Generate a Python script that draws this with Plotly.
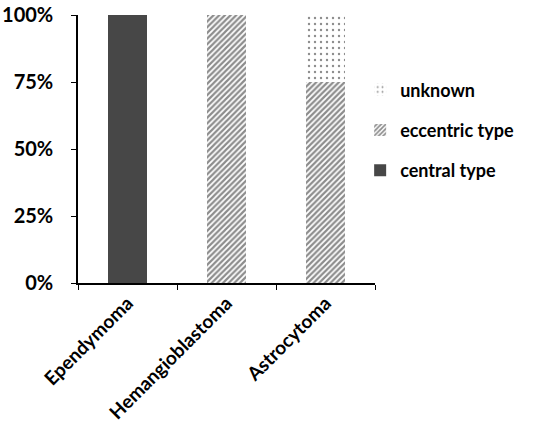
import plotly.graph_objects as go

categories = ["Ependymoma", "Hemangioblastoma", "Astrocytoma"]
central_type = [100, 0, 0]
eccentric_type = [0, 100, 75]
unknown = [0, 0, 25]
tick_vals = [0, 25, 50, 75, 100]
tick_text = ["0%", "25%", "50%", "75%", "100%"]

FONT = "Lato"

fig = go.Figure()
fig.add_trace(go.Bar(
    x=categories, y=central_type, name="<b>central type</b>",
    legendgroup="c", legendrank=3,
    marker=dict(color="#474747", line=dict(width=0)),
))
fig.add_trace(go.Bar(
    x=categories, y=eccentric_type, name="<b>eccentric type</b>",
    legendgroup="e", legendrank=2,
    marker=dict(color="white", line=dict(width=0),
                pattern=dict(shape="/", fgcolor="#1a1a1a", bgcolor="white",
                             size=4, solidity=0.55)),
))
fig.add_trace(go.Bar(
    x=categories, y=unknown, name="<b>unknown</b>",
    legendgroup="u", legendrank=1,
    marker=dict(color="white", line=dict(width=0),
                pattern=dict(shape=".", fgcolor="#1a1a1a", bgcolor="white",
                             size=6, solidity=0.12)),
))

fig.update_layout(
    barmode="stack",
    bargap=0.6,
    width=533, height=439,
    autosize=False,
    margin=dict(l=78, r=158, t=15, b=156, autoexpand=False),
    plot_bgcolor="white", paper_bgcolor="white",
    font=dict(family=FONT, size=19, color="black"),
    showlegend=True,
    legend=dict(x=0.95, y=0.79, xanchor="left", yanchor="top",
                traceorder="grouped", itemsizing="constant",
                font=dict(family=FONT, size=18, color="black"),
                bgcolor="rgba(0,0,0,0)",
                tracegroupgap=14, itemwidth=30),
    xaxis=dict(showline=True, linecolor="black", linewidth=1.5,
               automargin=False,
               ticks="outside", tickson="boundaries", ticklen=5,
               tickcolor="black", tickangle=-45,
               tickvals=categories,
               ticktext=["<b>" + c + "</b>" for c in categories],
               tickfont=dict(family=FONT, size=19, color="black")),
    yaxis=dict(range=[0, 100], tickvals=tick_vals,
               ticktext=["<b>" + t + "</b>" for t in tick_text],
               automargin=False,
               showline=True, linecolor="black", linewidth=1.5,
               ticks="outside", ticklen=5, tickcolor="black",
               ticklabelstandoff=14,
               showgrid=False, zeroline=False,
               tickfont=dict(family=FONT, size=20, color="black")),
)

fig.write_html("out.html",
               config={"responsive": False, "displayModeBar": False},
               post_script="document.body.style.margin='0';document.body.style.overflow='hidden';")
